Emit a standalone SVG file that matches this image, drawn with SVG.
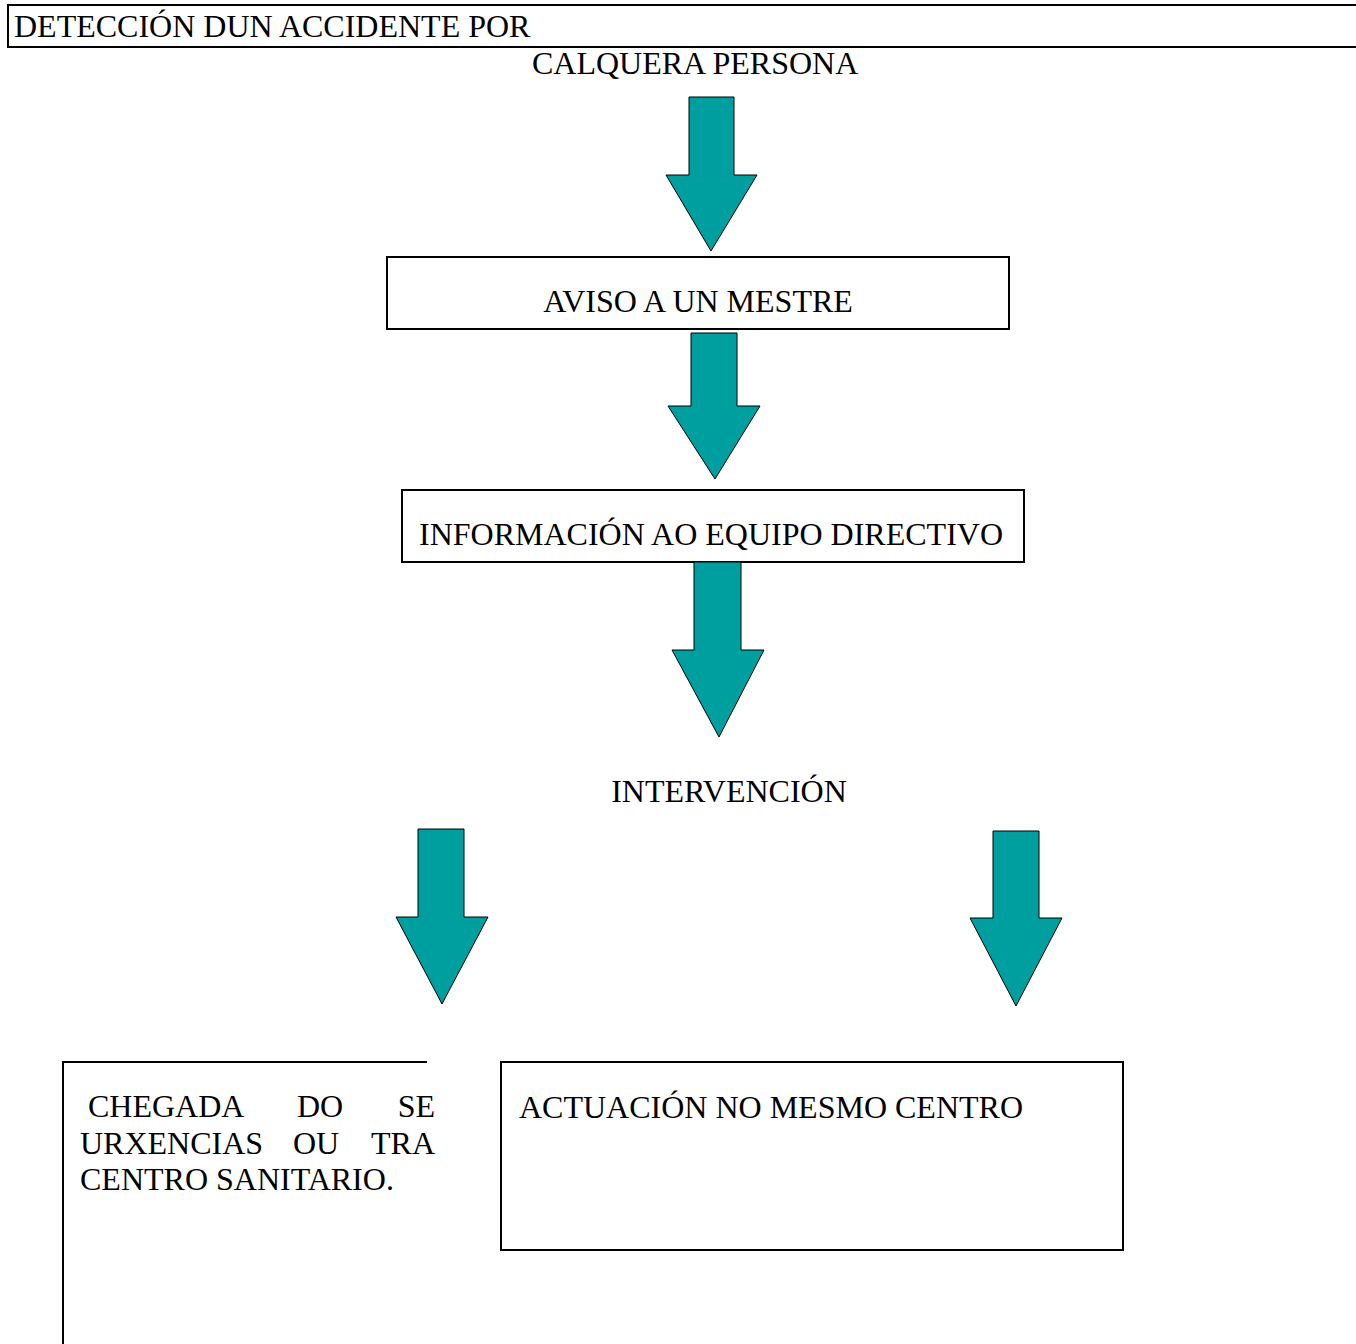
<svg xmlns="http://www.w3.org/2000/svg" width="1356" height="1344" viewBox="0 0 1356 1344">
<style>
text{font-family:"Liberation Serif","Times New Roman",serif;font-size:32px;fill:#000}
.box{fill:#fff;stroke:#000;stroke-width:2}
.arr{fill:#009f9f;stroke:#000;stroke-width:1;stroke-linejoin:miter}
</style>
<rect width="1356" height="1344" fill="#fff"/>
<g id="n-deteccion">
<rect class="box" x="8" y="5" width="1360" height="42"/>
<text x="14" y="37">DETECCIÓN DUN ACCIDENTE POR</text>
<text x="532" y="74">CALQUERA PERSONA</text>
</g>
<g id="n-aviso">
<rect class="box" x="387" y="257" width="622" height="72"/>
<text x="698" y="312" text-anchor="middle">AVISO A UN MESTRE</text>
</g>
<g id="n-informacion">
<rect class="box" x="402" y="490" width="622" height="72"/>
<text x="711" y="545" text-anchor="middle">INFORMACIÓN AO EQUIPO DIRECTIVO</text>
</g>
<g id="n-intervencion">
<text x="729" y="802" text-anchor="middle">INTERVENCIÓN</text>
</g>
<g id="n-chegada">
<path d="M427 1062H63V1344" fill="none" stroke="#000" stroke-width="2"/>
<text x="88" y="1117">CHEGADA</text>
<text x="320" y="1117" text-anchor="middle">DO</text>
<text x="435" y="1117" text-anchor="end">SE</text>
<text x="80" y="1154">URXENCIAS</text>
<text x="316" y="1154" text-anchor="middle">OU</text>
<text x="435" y="1154" text-anchor="end">TRA</text>
<text x="80" y="1190">CENTRO SANITARIO.</text>
</g>
<g id="n-actuacion">
<rect class="box" x="501" y="1062" width="622" height="188"/>
<text x="519" y="1118">ACTUACIÓN NO MESMO CENTRO</text>
</g>
<g id="connectors">
<polygon class="arr" points="689,97 734,97 734,175 757,175 711,251 666,175 689,175"/>
<polygon class="arr" points="691,333 737,333 737,406 760,406 715,479 668,406 691,406"/>
<polygon class="arr" points="694,562 741,562 741,650 764,650 719,737 672,650 694,650"/>
<polygon class="arr" points="418,829 464,829 464,917 488,917 442,1004 396,917 418,917"/>
<polygon class="arr" points="993,831 1039,831 1039,918 1062,918 1016,1006 970,918 993,918"/>
</g>
</svg>
